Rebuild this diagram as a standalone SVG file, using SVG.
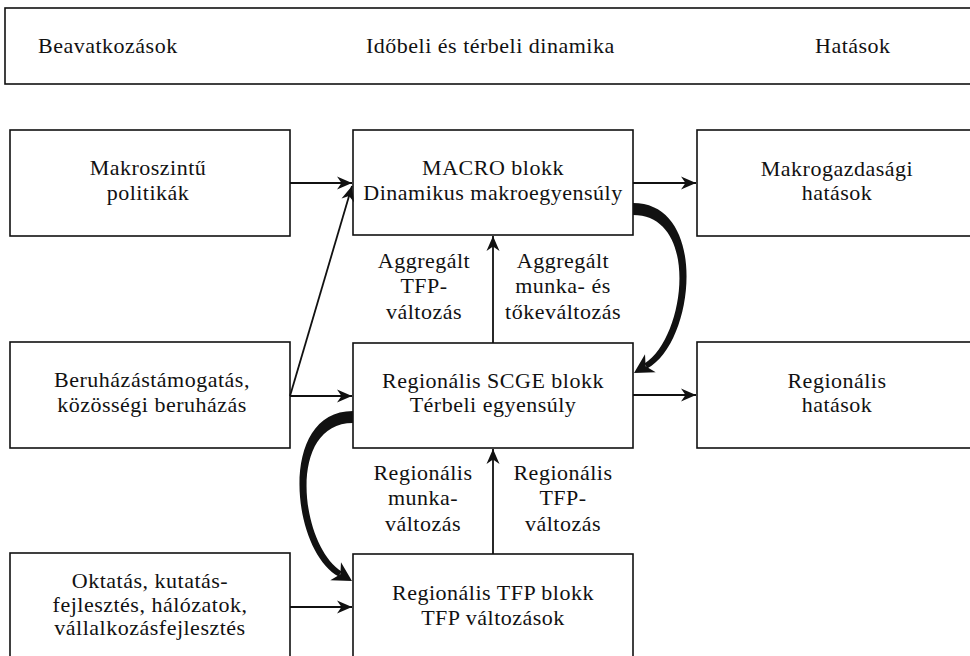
<svg xmlns="http://www.w3.org/2000/svg" xmlns:xlink="http://www.w3.org/1999/xlink" width="970" height="656" viewBox="0 0 970 656">
<style>
.box{fill:#fff;stroke:#111;stroke-width:1.6}
.t{font-family:'Liberation Serif','DejaVu Serif',serif;font-size:22px;letter-spacing:0.5px;fill:#111;text-anchor:middle}
.th{font-family:'Liberation Serif','DejaVu Serif',serif;font-size:22px;letter-spacing:0.5px;fill:#111}
.ln{fill:none;stroke:#111;stroke-width:1.8}
</style>
<defs>
<marker id="ah" markerUnits="userSpaceOnUse" markerWidth="20" markerHeight="16" viewBox="-16 -8 20 16" refX="0" refY="0" orient="auto">
<path d="M0,0 L-15,-6.5 L-10.5,0 L-15,6.5 Z" fill="#111"/>
</marker>
<g id="bigcurve">
<path d="M633,203 C709,203 695,343 647.3,368.5 L644.5,363.5 C686,337 700,215 633,215 Z" fill="#111"/>
<path d="M0,0 L-19,-10.5 L-13.5,0 L-19,10.5 Z" fill="#111" transform="translate(634,373) rotate(149.4)"/>
</g>
</defs>
<rect width="970" height="656" fill="#fff"/>

<g id="header">
<rect class="box" x="5" y="8" width="980" height="76"/>
<text class="th" x="38" y="53">Beavatkozások</text>
<text class="th" x="366" y="53">Időbeli és térbeli dinamika</text>
<text class="th" x="815" y="53">Hatások</text>
</g>

<g id="makroszintu">
<rect class="box" x="10" y="130" width="280" height="106"/>
<text class="t" x="148" y="175">Makroszintű</text>
<text class="t" x="148" y="200">politikák</text>
</g>
<g id="macro">
<rect class="box" x="353" y="130" width="280" height="105"/>
<text class="t" x="493" y="175">MACRO blokk</text>
<text class="t" x="493" y="200">Dinamikus makroegyensúly</text>
</g>
<g id="makrohatasok">
<rect class="box" x="697" y="130" width="290" height="106"/>
<text class="t" x="837" y="176">Makrogazdasági</text>
<text class="t" x="837" y="200">hatások</text>
</g>

<g id="beruhazas">
<rect class="box" x="10" y="342" width="280" height="106"/>
<text class="t" x="152" y="387">Beruházástámogatás,</text>
<text class="t" x="152" y="412">közösségi beruházás</text>
</g>
<g id="scge">
<rect class="box" x="353" y="343" width="280" height="105"/>
<text class="t" x="493" y="388">Regionális SCGE blokk</text>
<text class="t" x="493" y="412">Térbeli egyensúly</text>
</g>
<g id="reghatasok">
<rect class="box" x="697" y="342" width="290" height="106"/>
<text class="t" x="837" y="388">Regionális</text>
<text class="t" x="837" y="412">hatások</text>
</g>

<g id="oktatas">
<rect class="box" x="10" y="553" width="280" height="120"/>
<text class="t" x="150" y="588">Oktatás, kutatás-</text>
<text class="t" x="150" y="612">fejlesztés, hálózatok,</text>
<text class="t" x="150" y="635">vállalkozásfejlesztés</text>
</g>
<g id="tfp">
<rect class="box" x="353" y="554" width="280" height="120"/>
<text class="t" x="493" y="600">Regionális TFP blokk</text>
<text class="t" x="493" y="625">TFP változások</text>
</g>

<g id="labels">
<text class="t" x="424" y="268">Aggregált</text>
<text class="t" x="424" y="293">TFP-</text>
<text class="t" x="424" y="319">változás</text>
<text class="t" x="563" y="268">Aggregált</text>
<text class="t" x="563" y="293">munka- és</text>
<text class="t" x="563" y="319">tőkeváltozás</text>
<text class="t" x="423" y="480">Regionális</text>
<text class="t" x="423" y="505">munka-</text>
<text class="t" x="423" y="531">változás</text>
<text class="t" x="563" y="480">Regionális</text>
<text class="t" x="563" y="505">TFP-</text>
<text class="t" x="563" y="531">változás</text>
</g>

<g id="connectors">
<line class="ln" x1="290" y1="183" x2="352" y2="183" marker-end="url(#ah)"/>
<line class="ln" x1="633" y1="183" x2="696" y2="183" marker-end="url(#ah)"/>
<line class="ln" x1="290" y1="396" x2="352" y2="396" marker-end="url(#ah)"/>
<line class="ln" x1="290" y1="396" x2="352" y2="186" marker-end="url(#ah)"/>
<line class="ln" x1="633" y1="395" x2="696" y2="395" marker-end="url(#ah)"/>
<line class="ln" x1="290" y1="607" x2="352" y2="607" marker-end="url(#ah)"/>
<line class="ln" x1="493" y1="343" x2="493" y2="236" marker-end="url(#ah)"/>
<line class="ln" x1="493" y1="554" x2="493" y2="449" marker-end="url(#ah)"/>
<use xlink:href="#bigcurve"/>
<use xlink:href="#bigcurve" transform="translate(986,208) scale(-1,1)"/>
</g>
</svg>
